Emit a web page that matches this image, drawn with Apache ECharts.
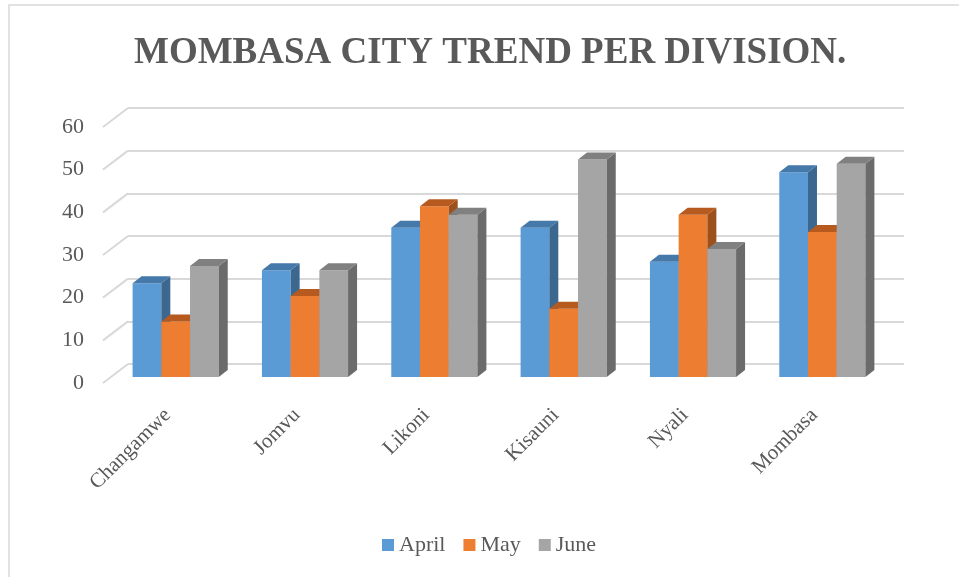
<!DOCTYPE html>
<html>
<head>
<meta charset="utf-8">
<title>Mombasa city trend per division</title>
<script src="https://cdn.jsdelivr.net/npm/echarts@6/dist/echarts.min.js"></script>
<style>
  html, body { margin: 0; padding: 0; background: #fff; }
  #chart { width: 959px; height: 577px; }
</style>
</head>
<body>
<div id="chart"></div>
<script>
// data
var divisions = ['Changamwe', 'Jomvu', 'Likoni', 'Kisauni', 'Nyali', 'Mombasa'];
var april = [22, 25, 35, 35, 27, 48];
var may = [13, 19, 40, 16, 38, 34];
var june = [26, 25, 38, 51, 30, 50];
var yTicks = [0, 10, 20, 30, 40, 50, 60];

var months = ['April', 'May', 'June'];
var monthData = [april, may, june];
// front, side, top colours per month
var faces = [
  ['#5B9BD5', '#3C6890', '#4579A9'],
  ['#ED7D31', '#9E501C', '#B65A1F'],
  ['#A5A5A5', '#6B6B6B', '#808080']
];
var textColor = '#595959';
var font = '"Liberation Serif", "Times New Roman", serif';
var depthX = 9, depthY = 7;

function barRenderer (idx) {
  return function (params, api) {
    var catIdx = api.value(0);
    var base = api.coord([catIdx, 0]);
    var top = api.coord([catIdx, api.value(1)]);
    var band = api.size([1, 0])[0];
    var w = band * 0.222;
    var x0 = base[0] - 1.5 * w + idx * w;
    var x1 = x0 + w;
    var yb = base[1], yt = top[1];
    var c = faces[idx];
    return {
      type: 'group',
      children: [
        { type: 'rect', shape: { x: x0, y: yt, width: w, height: yb - yt }, style: { fill: c[0] } },
        { type: 'polygon', shape: { points: [[x1, yt], [x1 + depthX, yt - depthY], [x1 + depthX, yb - depthY], [x1, yb]] }, style: { fill: c[1] } },
        { type: 'polygon', shape: { points: [[x0, yt], [x1, yt], [x1 + depthX, yt - depthY], [x0 + depthX, yt - depthY]] }, style: { fill: c[2] } }
      ]
    };
  };
}

var series = months.map(function (m, i) {
  return {
    name: m,
    type: 'custom',
    xAxisIndex: 0,
    yAxisIndex: 0,
    color: faces[i][0],
    z: 3,
    encode: { x: 0, y: 1 },
    data: monthData[i].map(function (v, k) { return [k, v]; }),
    renderItem: barRenderer(i)
  };
});

// diagonal floor / wall lines from the front edge to the back wall
series.push({
  type: 'custom',
  xAxisIndex: 1,
  yAxisIndex: 1,
  silent: true,
  z: 1,
  data: yTicks.map(function (v) { return [0, v]; }),
  renderItem: function (params, api) {
    var back = api.coord([0, api.value(1)]);
    return {
      type: 'line',
      shape: { x1: back[0] - 25, y1: back[1] + 19, x2: back[0], y2: back[1] },
      style: { stroke: '#D9D9D9', lineWidth: 2 }
    };
  }
});

var chart = echarts.init(document.getElementById('chart'));
chart.setOption({
  backgroundColor: '#fff',
  animation: false,
  title: {
    text: 'MOMBASA CITY TREND PER DIVISION.',
    left: 129,
    top: 30,
    textStyle: { fontFamily: font, fontSize: 37, fontWeight: 'bold', color: textColor }
  },
  graphic: [{
    type: 'rect',
    shape: { x: 9, y: 5, width: 1000, height: 700 },
    style: { fill: 'none', stroke: '#D9D9D9', lineWidth: 1.5 },
    silent: true,
    z: 0
  }],
  legend: {
    data: months,
    left: 377,
    top: 529,
    icon: 'rect',
    itemWidth: 12,
    itemHeight: 12,
    itemGap: 18,
    textStyle: { fontFamily: font, fontSize: 22, color: textColor }
  },
  grid: [
    { left: 111, right: 72, top: 121, bottom: 200 },  // bar plane
    { left: 128, right: 55, top: 108, bottom: 213 },  // back wall
    { left: 103, right: 80, top: 127, bottom: 194 }   // front edge (labels)
  ],
  xAxis: [
    { type: 'category', gridIndex: 0, data: divisions, show: false },
    { type: 'value', gridIndex: 1, min: 0, max: 1, show: false },
    {
      type: 'category', gridIndex: 2, data: divisions,
      axisLine: { show: false }, axisTick: { show: false },
      axisLabel: { rotate: 45, margin: 29, fontFamily: font, fontSize: 21, color: textColor }
    }
  ],
  yAxis: [
    { type: 'value', gridIndex: 0, min: 0, max: 60, interval: 10, show: false },
    {
      type: 'value', gridIndex: 1, min: 0, max: 60, interval: 10,
      axisLabel: { show: false }, axisLine: { show: false }, axisTick: { show: false },
      splitLine: { lineStyle: { color: '#D9D9D9', width: 2 } }
    },
    {
      type: 'value', gridIndex: 2, min: 0, max: 60, interval: 10,
      axisLine: { show: false }, axisTick: { show: false }, splitLine: { show: false },
      axisLabel: { margin: 19, fontFamily: font, fontSize: 22, color: textColor }
    }
  ],
  series: series
});
</script>
</body>
</html>
